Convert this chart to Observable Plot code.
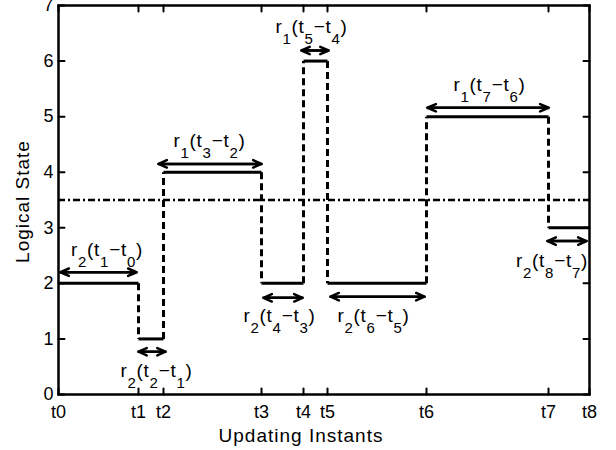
<!DOCTYPE html>
<html>
<head>
<meta charset="utf-8">
<script src="https://cdn.jsdelivr.net/npm/d3@7"></script>
<script src="https://cdn.jsdelivr.net/npm/@observablehq/plot@0.6"></script>
<style>
  html, body { margin: 0; padding: 0; background: #fff; }
</style>
</head>
<body>
<div id="chart"></div>
<script>
// ---- data ----
const tLabels = ["t0", "t1", "t2", "t3", "t4", "t5", "t6", "t7", "t8"];
const tValues = [0, 80, 105, 203, 245, 269, 368, 490, 531];
const levels = [2, 1, 4, 2, 6, 2, 5, 3];           // logical state on each interval
const yTicks = [0, 1, 2, 3, 4, 5, 6, 7];
const threshold = [3.5];

const arrowX1 = [2, 80, 100, 243, 205, 272, 369, 489];
const arrowX2 = [78, 107, 203, 270, 244, 366, 490, 528];
const arrowY  = [2.2, 0.77, 4.15, 6.19, 1.74, 1.76, 5.16, 2.76];

const labelText = ["r_2(t_1−t_0)", "r_2(t_2−t_1)", "r_1(t_3−t_2)", "r_1(t_5−t_4)",
                   "r_2(t_4−t_3)", "r_2(t_6−t_5)", "r_1(t_7−t_6)", "r_2(t_8−t_7)"];
const labelX = [48.5, 98, 151, 253, 221, 315, 431, 493.5];
const labelY = [2.5, 0.32, 4.46, 6.5, 1.3, 1.31, 5.47, 2.3];

const xTitle = "Updating Instants";
const yTitle = "Logical State";

// ---- chart ----
const tickShape = {draw(context, l) { context.moveTo(0, 0); context.lineTo(0, -l); }};
const T8 = tValues[tValues.length - 1];

const chart = Plot.plot({
  width: 616,
  height: 450,
  marginLeft: 58,
  marginRight: 27,
  marginTop: 5,
  marginBottom: 56,
  style: {fontFamily: "Liberation Sans, Arial, sans-serif", fontSize: "18px", color: "black", background: "white"},
  x: {domain: [0, T8]},
  y: {domain: [0, 7]},
  marks: [
    Plot.ruleY(threshold, {stroke: "black", strokeWidth: 2.5, strokeDasharray: "7,3,2,3"}),
    // vertical transitions (dashed)
    Plot.link(levels.slice(1), {
      x1: (d, i) => tValues[i + 1], x2: (d, i) => tValues[i + 1],
      y1: (d, i) => levels[i], y2: d => d,
      stroke: "black", strokeWidth: 3, strokeDasharray: "7,4"
    }),
    // horizontal holds (solid)
    Plot.link(levels, {
      x1: (d, i) => tValues[i], x2: (d, i) => tValues[i + 1],
      y1: d => d, y2: d => d,
      stroke: "black", strokeWidth: 3
    }),
    // double arrows
    Plot.arrow(arrowY, {x1: arrowX1, x2: arrowX2, y1: d => d, y2: d => d,
      stroke: "black", strokeWidth: 2.5, headLength: 5.5, headAngle: 48}),
    Plot.arrow(arrowY, {x1: arrowX2, x2: arrowX1, y1: d => d, y2: d => d,
      stroke: "black", strokeWidth: 2.5, headLength: 5.5, headAngle: 48}),
    Plot.text(labelText, {x: labelX, y: labelY, text: d => d, textAnchor: "middle",
      lineAnchor: "bottom", fontSize: 19, fill: "black"}),
    Plot.frame({stroke: "black", strokeWidth: 2.5}),
    // inward ticks on all four sides
    Plot.vector(tValues, {x: d => d, y: 0, rotate: 0, length: 6, anchor: "start", shape: tickShape, stroke: "black", strokeWidth: 2}),
    Plot.vector(tValues, {x: d => d, y: 7, rotate: 180, length: 6, anchor: "start", shape: tickShape, stroke: "black", strokeWidth: 2}),
    Plot.vector(yTicks, {x: 0, y: d => d, rotate: 90, length: 6, anchor: "start", shape: tickShape, stroke: "black", strokeWidth: 2}),
    Plot.vector(yTicks, {x: T8, y: d => d, rotate: 270, length: 6, anchor: "start", shape: tickShape, stroke: "black", strokeWidth: 2}),
    Plot.axisX({ticks: tValues, tickFormat: d => tLabels[tValues.indexOf(d)], tickSize: 0, tickPadding: 11, fontSize: 18, label: null}),
    Plot.axisY({ticks: yTicks, tickFormat: d => String(d), tickSize: 0, tickPadding: 5, fontSize: 18, label: null}),
    Plot.text([xTitle], {text: d => d, frameAnchor: "bottom", dx: -23, dy: 47, lineAnchor: "bottom", fontSize: 19}),
    Plot.text([yTitle], {text: d => d, frameAnchor: "left", rotate: -90, dx: -30, dy: 1.5, lineAnchor: "bottom", textAnchor: "middle", fontSize: 19})
  ]
});

// subscripts as tspans
d3.select(chart).selectAll("text").filter(function () { return labelText.includes(this.textContent); }).each(function () {
  const s = this.textContent;
  this.textContent = "";
  const tokens = [];
  for (let k = 0; k < s.length; k++) {
    if (s[k] === "_") { tokens.push({t: s[k + 1], sub: true}); k++; }
    else {
      const last = tokens[tokens.length - 1];
      if (last && !last.sub) last.t += s[k]; else tokens.push({t: s[k], sub: false});
    }
  }
  let prevSub = false;
  const sel = d3.select(this).style("letter-spacing", "0.7px");
  for (const tok of tokens) {
    const ts = sel.append("tspan").text(tok.t);
    if (tok.sub) { ts.attr("font-size", 15); if (!prevSub) ts.attr("dy", 11); }
    else if (prevSub) ts.attr("dy", -11);
    prevSub = tok.sub;
  }
});
d3.select(chart).selectAll("text").filter(function () { return this.textContent === xTitle || this.textContent === yTitle; })
  .style("letter-spacing", "1px");

document.getElementById("chart").appendChild(chart);
</script>
</body>
</html>
